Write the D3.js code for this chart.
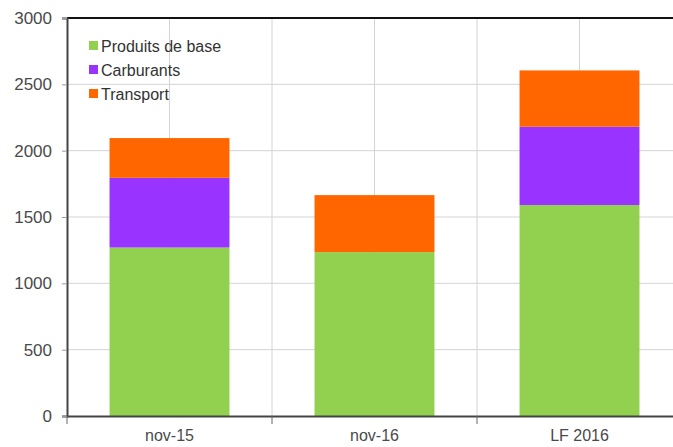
<!DOCTYPE html>
<html>
<head>
<meta charset="utf-8">
<script src="https://cdn.jsdelivr.net/npm/d3@7"></script>
<style>
  html, body { margin: 0; padding: 0; background: #fff; }
  svg { display: block; }
  text { font-family: "Liberation Sans", Arial, sans-serif; }
</style>
</head>
<body>
<svg id="chart" width="673" height="447"></svg>
<script>
// Categories and stacked series
const categories = ["nov-15", "nov-16", "LF 2016"];
const seriesNames = ["Produits de base", "Carburants", "Transport"];
const produitsDeBase = [1270, 1235, 1590];
const carburants = [525, 0, 590];
const transport = [300, 430, 425];
const yTicks = [0, 500, 1000, 1500, 2000, 2500, 3000];
const colors = ["#92d050", "#9933ff", "#ff6600"];

const rows = categories.map((c, i) => ({
  cat: c,
  "Produits de base": produitsDeBase[i],
  "Carburants": carburants[i],
  "Transport": transport[i]
}));

const svg = d3.select("#chart");
const plotLeft = 67, plotRight = 682, plotTop = 18, plotBottom = 416;

const x = d3.scaleBand().domain(categories).range([plotLeft, plotRight]).padding(0);
const y = d3.scaleLinear().domain([0, 3000]).range([plotBottom, plotTop]);
const barW = x.bandwidth() * 0.585;

// Grid lines
const grid = svg.append("g");
grid.selectAll("line.h").data(yTicks.slice(1, -1)).join("line")
  .attr("x1", plotLeft).attr("x2", plotRight)
  .attr("y1", d => y(d)).attr("y2", d => y(d))
  .attr("stroke", "#d4d4d4").attr("stroke-width", 1);
const vLines = [];
categories.forEach(c => {
  vLines.push(x(c) + x.bandwidth() / 2);
  if (x(c) > plotLeft) vLines.push(x(c));
});
grid.selectAll("line.v").data(vLines).join("line")
  .attr("x1", d => d).attr("x2", d => d)
  .attr("y1", plotTop).attr("y2", plotBottom)
  .attr("stroke", "#d4d4d4").attr("stroke-width", 1);

// Stacked bars
const stack = d3.stack().keys(seriesNames)(rows);
svg.append("g").selectAll("g").data(stack).join("g")
  .attr("fill", (d, i) => colors[i])
  .selectAll("rect").data(d => d).join("rect")
  .attr("x", d => x(d.data.cat) + (x.bandwidth() - barW) / 2)
  .attr("width", barW)
  .attr("y", d => y(d[1]))
  .attr("height", d => y(d[0]) - y(d[1]));

// Top border
svg.append("line").attr("x1", plotLeft).attr("x2", 673)
  .attr("y1", plotTop).attr("y2", plotTop)
  .attr("stroke", "#111").attr("stroke-width", 2);

// Y axis
const yAxis = svg.append("g").attr("transform", `translate(${plotLeft},0)`)
  .call(d3.axisLeft(y).tickValues(yTicks).tickFormat(d3.format("d")).tickSize(5).tickPadding(10));
yAxis.select(".domain").attr("stroke", "#444").attr("stroke-width", 2);
yAxis.selectAll(".tick line").attr("stroke", "#999");
yAxis.selectAll(".tick text").attr("fill", "#4a4a4a").attr("font-size", 17)
  .attr("font-family", "Liberation Sans, Arial, sans-serif");

// X axis
const xAxis = svg.append("g").attr("transform", `translate(0,${plotBottom})`)
  .call(d3.axisBottom(x).tickSize(0).tickPadding(14));
xAxis.select(".domain").attr("stroke", "#444").attr("stroke-width", 2);
xAxis.selectAll(".tick text").attr("fill", "#4a4a4a").attr("font-size", 16)
  .attr("font-family", "Liberation Sans, Arial, sans-serif");
svg.append("g").selectAll("line").data(categories).join("line")
  .attr("x1", d => x(d)).attr("x2", d => x(d))
  .attr("y1", plotBottom).attr("y2", plotBottom + 8)
  .attr("stroke", "#666").attr("stroke-width", 1);

// Legend
const legend = svg.append("g").attr("transform", "translate(89,46)");
seriesNames.forEach((name, i) => {
  const g = legend.append("g").attr("transform", `translate(0,${i * 24})`);
  g.append("rect").attr("x", 0).attr("y", -5).attr("width", 9).attr("height", 9)
    .attr("fill", colors[i]);
  g.append("text").attr("x", 12).attr("y", 0).attr("dy", "0.35em")
    .attr("font-size", 16).attr("fill", "#333").text(name);
});
</script>
</body>
</html>
